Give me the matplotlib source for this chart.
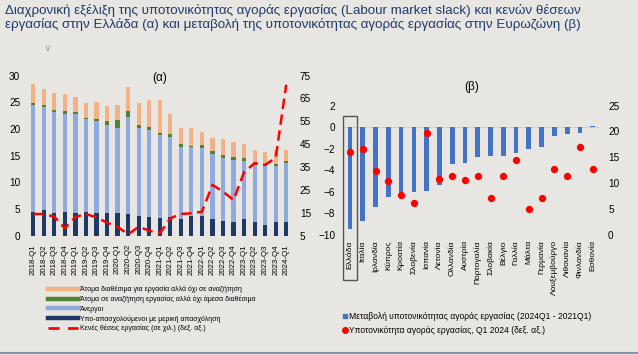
import numpy as np
import matplotlib.pyplot as plt
import matplotlib.transforms as mtransforms
from matplotlib.patches import Rectangle
from matplotlib.lines import Line2D

plt.rcParams['font.family'] = ['Liberation Sans', 'DejaVu Sans']

# ---- panel (a): Greece, labour market slack (% of extended labour force) ----
quarters = ["2018-Q1", "2018-Q2", "2018-Q3", "2018-Q4", "2019-Q1", "2019-Q2", "2019-Q3",
            "2019-Q4", "2020-Q1", "2020-Q2", "2020-Q3", "2020-Q4", "2021-Q1", "2021-Q2",
            "2021-Q3", "2021-Q4", "2022-Q1", "2022-Q2", "2022-Q3", "2022-Q4", "2023-Q1",
            "2023-Q2", "2023-Q3", "2023-Q4", "2024-Q1"]
part_time = [4.5, 4.75, 4.25, 4.45, 4.3, 4.45, 4.3, 4.25, 4.2, 4.0, 3.75, 3.5, 3.4,
             3.6, 3.1, 3.75, 3.75, 3.1, 2.75, 2.55, 3.1, 2.55, 2.1, 2.5, 2.5]
unemployed = [20.05, 19.35, 19.0, 18.45, 18.5, 17.35, 17.2, 16.55, 16.05, 18.25, 16.5,
              16.25, 15.5, 14.9, 13.6, 12.8, 12.75, 12.3, 11.85, 11.55, 10.9, 10.75,
              11.0, 10.6, 11.05]
seeking_not_avail = [0.35, 0.4, 0.4, 0.55, 0.3, 0.3, 0.4, 0.75, 1.35, 1.05, 0.5, 0.6,
                     0.4, 0.6, 0.4, 0.3, 0.5, 0.45, 0.5, 0.7, 0.5, 0.45, 0.4, 0.4, 0.45]
avail_not_seeking = [3.5, 3.0, 3.1, 3.15, 2.9, 2.8, 3.2, 2.75, 2.9, 4.6, 4.15, 5.05,
                     6.2, 3.65, 3.1, 3.25, 2.5, 2.55, 3.1, 2.8, 2.7, 2.25, 2.25, 2.6, 2.1]
vacancies = [14.5, 14.5, 13.3, 8.2, 13.2, 14.5, 13.0, 10.7, 8.9, 5.6, 8.9, 7.2, 6.0,
             12.6, 14.5, 14.8, 15.5, 27.2, 24.3, 20.6, 32.8, 36.7, 36.0, 39.0, 71.0]

# ---- panel (b): euro area countries ----
countries = ["Ελλάδα", "Ιταλία", "Ιρλανδία", "Κύπρος", "Κροατία", "Σλοβενία", "Ισπανία",
             "Λετονία", "Ολλανδία", "Αυστρία", "Πορτογαλία", "Σλοβακία", "Βέλγιο",
             "Γαλλία", "Μάλτα", "Γερμανία", "Λουξεμβούργο", "Λιθουανία", "Φινλανδία",
             "Εσθονία"]
slack_change = [-9.5, -8.7, -7.4, -6.45, -6.5, -6.0, -5.95, -5.4, -3.4, -3.35, -2.8,
                -2.7, -2.7, -2.4, -2.0, -1.85, -0.85, -0.65, -0.55, 0.15]
slack_2024 = [16.0, 16.7, 12.3, 10.4, 7.7, 6.1, 19.7, 10.8, 11.4, 10.6, 11.3, 7.1,
              11.3, 14.4, 5.0, 7.1, 12.7, 11.3, 16.9, 12.7]

BG = '#e7e6e2'
TITLE_C = '#1f3a6e'
ORANGE = '#f4b183'
GREEN = '#548235'
LBLUE = '#8faadc'
NAVY = '#1f3864'
RED = '#ff0000'
BBLUE = '#4472c4'

fig = plt.figure(figsize=(6.38, 3.55), dpi=100)
fig.patch.set_facecolor(BG)

fig.text(0.008, 0.988,
         "Διαχρονική εξέλιξη της υποτονικότητας αγοράς εργασίας (Labour market slack) και κενών θέσεων\n"
         "εργασίας στην Ελλάδα (α) και μεταβολή της υποτονικότητας αγοράς εργασίας στην Ευρωζώνη (β)",
         ha='left', va='top', fontsize=9.6, color=TITLE_C, linespacing=1.12)
fig.text(0.075, 0.862, "\u02c5", ha='center', va='center', fontsize=7, color='#8a8a8a')

# ------------------------ panel (a) ------------------------
ax1 = fig.add_axes([0.0439, 0.336, 0.413, 0.451])
ax1.set_facecolor(BG)
x = np.arange(len(quarters))
w = 0.4
b1 = np.array(part_time)
b2 = b1 + np.array(unemployed)
b3 = b2 + np.array(seeking_not_avail)
ax1.bar(x, part_time, w, color=NAVY)
ax1.bar(x, unemployed, w, bottom=b1, color=LBLUE)
ax1.bar(x, seeking_not_avail, w, bottom=b2, color=GREEN)
ax1.bar(x, avail_not_seeking, w, bottom=b3, color=ORANGE)
ax1.set_xlim(-0.5, len(quarters) - 0.5)
ax1.set_ylim(0, 30)
ax1.set_yticks(range(0, 31, 5))
ax1.set_xticks(x)
ax1.set_xticklabels(quarters, rotation=90, fontsize=5.7)
ax1.tick_params(axis='y', labelsize=7.2, length=0, pad=5.5)
ax1.tick_params(axis='x', length=0, pad=6)
for s in ax1.spines.values():
    s.set_visible(False)
ax1.text(0.5, 0.985, "(α)", transform=ax1.transAxes, ha='center', va='center', fontsize=8.5)

ax1r = ax1.twinx()
ax1r.plot(x, vacancies, color=RED, lw=1.8, dashes=(4.2, 2.2))
ax1r.set_ylim(5, 75)
ax1r.set_yticks(range(5, 76, 10))
ax1r.tick_params(axis='y', labelsize=7.2, length=0, pad=6)
for s in ax1r.spines.values():
    s.set_visible(False)

h1 = [Line2D([], [], color=ORANGE, lw=3.2),
      Line2D([], [], color=GREEN, lw=3.2),
      Line2D([], [], color=LBLUE, lw=3.2),
      Line2D([], [], color=NAVY, lw=3.2),
      Line2D([], [], color=RED, lw=2.0, dashes=(4, 3))]
l1 = ["Άτομα διαθέσιμα για εργασία αλλά όχι σε αναζήτηση",
      "Άτομα σε αναζήτηση εργασίας αλλά όχι άμεσα διαθέσιμα",
      "Άνεργοι",
      "Υπο-απασχολούμενοι με μερική απασχόληση",
      "Κενές θέσεις εργασίας (σε χιλ.) (δεξ. αξ.)"]
fig.legend(h1, l1, loc='upper left', bbox_to_anchor=(0.075, 0.195), frameon=False,
           fontsize=5.0, handlelength=4.4, handletextpad=0.2, labelspacing=0.35,
           borderaxespad=0, borderpad=0)

# ------------------------ panel (b) ------------------------
ax2 = fig.add_axes([0.5386, 0.3389, 0.4004, 0.3634])
ax2.set_facecolor(BG)
xc = np.arange(len(countries))
ax2.axhline(0, color='#c8c8c8', lw=0.6, zorder=0)
ax2.bar(xc, slack_change, 0.37, color=BBLUE, zorder=2)
ax2.set_xlim(-0.5, len(countries) - 0.5)
ax2.set_ylim(-10, 2)
ax2.set_yticks(range(-10, 3, 2))
ax2.set_xticks(xc)
ax2.set_xticklabels(countries, rotation=90, fontsize=6.0)
ax2.tick_params(axis='y', labelsize=7.2, length=0, pad=6)
ax2.tick_params(axis='x', length=0, pad=4)
for s in ax2.spines.values():
    s.set_visible(False)
ax2.text(0.5, 1.145, "(β)", transform=ax2.transAxes, ha='center', va='center', fontsize=8.5)

ax2r = ax2.twinx()
ax2r.scatter(xc, slack_2024, s=18, color=RED, zorder=3)
ax2r.set_ylim(0, 25)
ax2r.set_yticks(range(0, 26, 5))
ax2r.tick_params(axis='y', labelsize=7.2, length=0, pad=6.5)
for s in ax2r.spines.values():
    s.set_visible(False)

# frame around Greece
trans = mtransforms.blended_transform_factory(ax2.transData, ax2.transAxes)
box = Rectangle((-0.55, -0.35), 1.1, 1.27, transform=trans, fill=False,
                edgecolor='#555555', lw=1.0, clip_on=False)
ax2.add_patch(box)

h2 = [Line2D([], [], ls='', marker='s', ms=3, color=BBLUE),
      Line2D([], [], ls='', marker='o', ms=4, color=RED)]
l2 = ["Μεταβολή υποτονικότητας αγοράς εργασίας (2024Q1 - 2021Q1)",
      "Υποτονικότητα αγοράς εργασίας, Q1 2024 (δεξ. αξ.)"]
fig.legend(h2, l2, loc='upper left', bbox_to_anchor=(0.537, 0.12), frameon=False,
           fontsize=6.15, handlelength=0.6, handletextpad=0.15, labelspacing=0.55,
           borderaxespad=0, borderpad=0)

# bottom rule
fig.add_artist(Line2D([0, 1], [0.006, 0.006], transform=fig.transFigure,
                      color='#8593a8', lw=1.5))

fig.savefig('out.png', dpi=100, facecolor=BG)
